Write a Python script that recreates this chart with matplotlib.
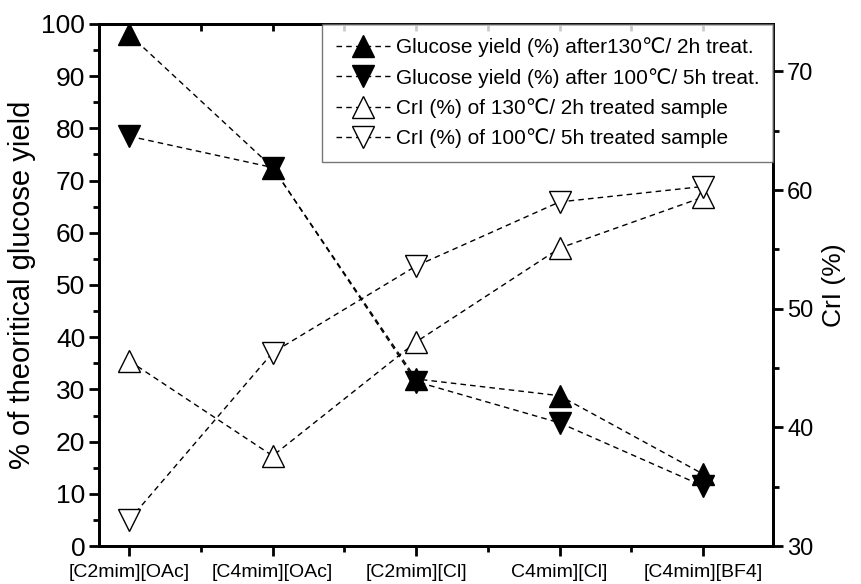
import numpy as np
import matplotlib
matplotlib.use("Agg")
import matplotlib.pyplot as plt
from matplotlib.ticker import MultipleLocator

plt.rcParams['font.family'] = ['Liberation Sans', 'DejaVu Sans']

ionic_liquids = ['[C2mim][OAc]', '[C4mim][OAc]', '[C2mim][Cl]', 'C4mim][Cl]', '[C4mim][BF4]']
glucose_130 = [98, 72.5, 32, 28.8, 13.8]
glucose_100 = [78.5, 72.5, 31.5, 23.6, 11.5]
cri_130 = [45.6, 37.6, 47.2, 55.1, 59.4]
cri_100 = [32.2, 46.3, 53.6, 59.0, 60.3]

x = np.arange(len(ionic_liquids))

fig = plt.figure(figsize=(8.62, 5.84), dpi=100)
ax = fig.add_axes([0.115, 0.065, 0.782, 0.894])
ax2 = ax.twinx()

line_kw = dict(color='black', lw=1.0, ls=(0, (4, 3)), ms=16)
h1, = ax.plot(x, glucose_130, marker='^', mfc='black', mec='black', **line_kw,
              label='Glucose yield (%) after130\u2103/ 2h treat.')
h2, = ax.plot(x, glucose_100, marker='v', mfc='black', mec='black', **line_kw,
              label='Glucose yield (%) after 100\u2103/ 5h treat.')
h3, = ax2.plot(x, cri_130, marker='^', mfc='white', mec='black', mew=1.0, **line_kw,
               label='CrI (%) of 130\u2103/ 2h treated sample')
h4, = ax2.plot(x, cri_100, marker='v', mfc='white', mec='black', mew=1.0, **line_kw,
               label='CrI (%) of 100\u2103/ 5h treated sample')

ax.set_xlim(-0.21, 4.49)
ax.set_ylim(0, 100)
ax2.set_ylim(30, 74)

ax.set_xticks(x)
ax.set_xticklabels(ionic_liquids, fontsize=14)
ax.xaxis.set_minor_locator(MultipleLocator(0.5))
ax.yaxis.set_major_locator(MultipleLocator(10))
ax.yaxis.set_minor_locator(MultipleLocator(5))
ax2.yaxis.set_major_locator(MultipleLocator(10))
ax2.yaxis.set_minor_locator(MultipleLocator(5))

ax.tick_params(axis='y', which='major', direction='out', length=7, width=2, labelsize=19, pad=3)
ax.tick_params(axis='y', which='minor', direction='out', length=4, width=2)
ax.tick_params(axis='x', which='major', direction='out', length=7, width=2, pad=6)
ax.tick_params(axis='x', which='minor', direction='out', length=4, width=2)
ax2.tick_params(axis='y', which='major', direction='out', length=7, width=2, labelsize=17, pad=3)
ax2.tick_params(axis='y', which='minor', direction='out', length=4, width=2)

# inward ticks along the top spine
top = ax.secondary_xaxis('top')
top.set_xticks(np.arange(0, 4.6, 0.5))
top.tick_params(direction='in', length=5, width=2, labeltop=False)

for a in (ax, ax2, top):
    for s in a.spines.values():
        s.set_linewidth(2)

ax.set_ylabel('% of theoritical glucose yield', fontsize=21, labelpad=4)
ax2.set_ylabel('CrI (%)', fontsize=19, labelpad=6)

leg = ax2.legend(handles=[h1, h2, h3, h4], loc='upper right', bbox_to_anchor=(1.0, 1.0),
                 borderaxespad=0, fontsize=15, frameon=True, fancybox=False,
                 handlelength=2.6, handletextpad=0.3, labelspacing=0.5,
                 borderpad=0.65, markerscale=0.95)
leg.get_frame().set_edgecolor('#555555')
leg.get_frame().set_linewidth(1.0)

fig.savefig('out.png', dpi=100)
